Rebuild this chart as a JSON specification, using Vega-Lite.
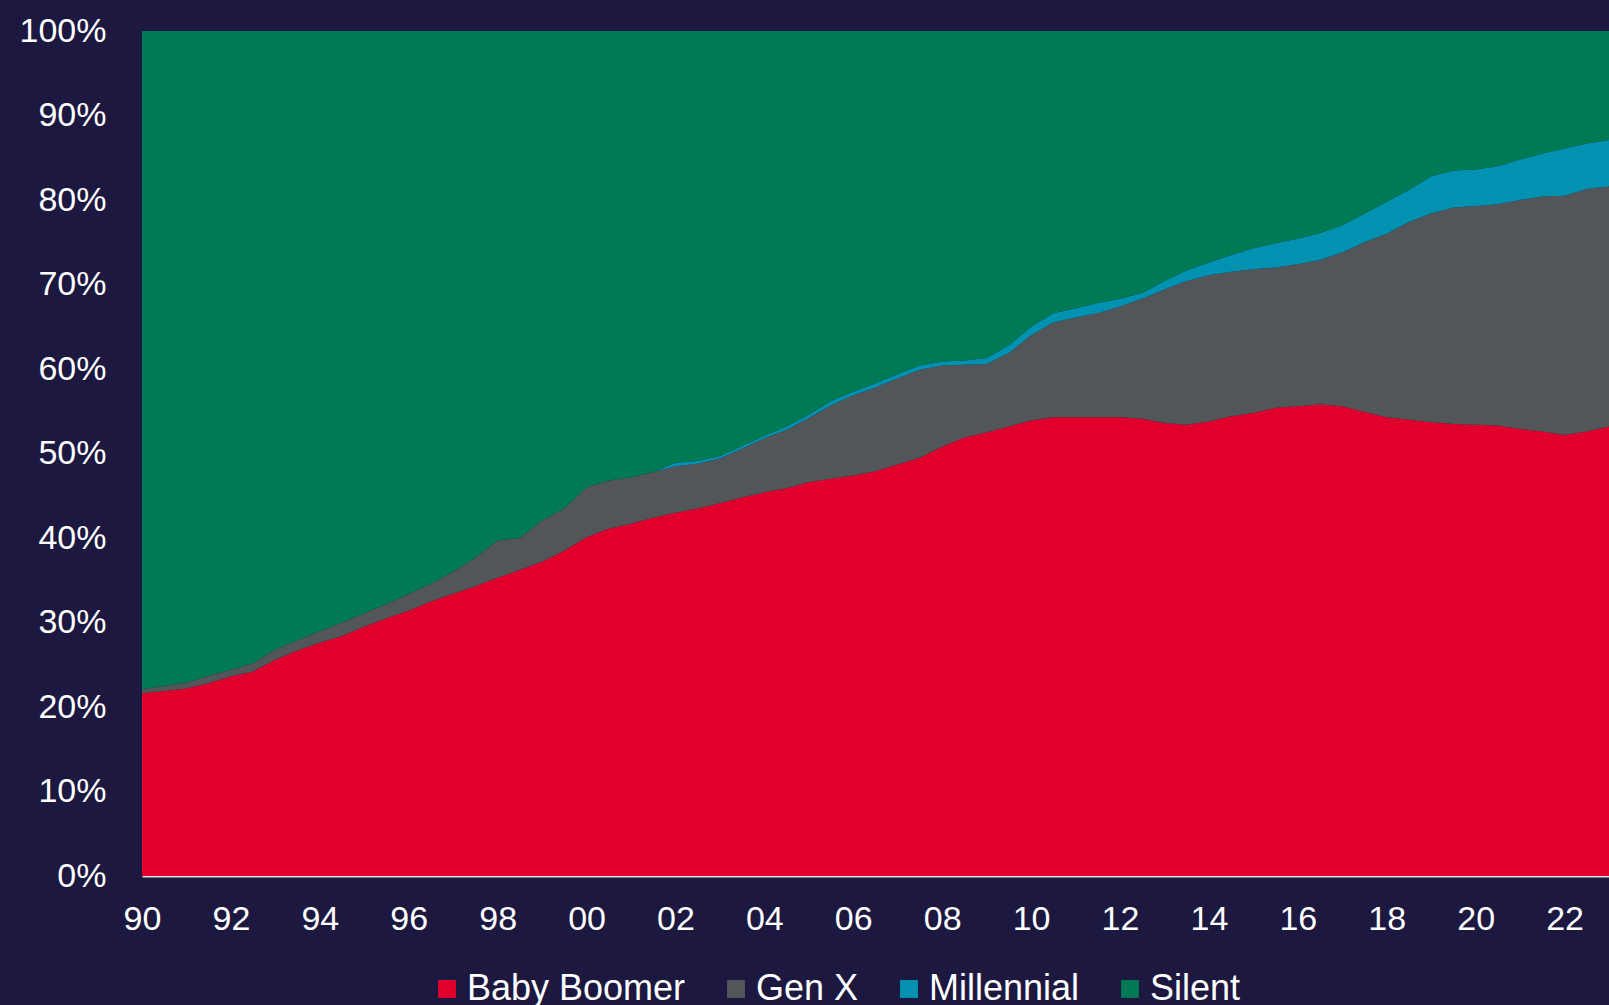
{
  "$schema": "https://vega.github.io/schema/vega-lite/v6.json",
  "width": 1467,
  "height": 845,
  "autosize": {"type": "none"},
  "padding": {"left": 142, "top": 31, "right": 0, "bottom": 129},
  "background": "#1c1840",
  "config": {"view": {"stroke": null}, "font": "Liberation Sans"},
  "data": {
    "values": [
      {"year": 1990.0, "Baby Boomer": 21.6, "Gen X": 0.5, "Millennial": 0, "Silent": 77.9},
      {"year": 1990.5, "Baby Boomer": 21.9, "Gen X": 0.6, "Millennial": 0, "Silent": 77.5},
      {"year": 1991.0, "Baby Boomer": 22.2, "Gen X": 0.7, "Millennial": 0, "Silent": 77.1},
      {"year": 1991.5, "Baby Boomer": 22.8, "Gen X": 0.9, "Millennial": 0, "Silent": 76.3},
      {"year": 1992.0, "Baby Boomer": 23.6, "Gen X": 0.8, "Millennial": 0, "Silent": 75.6},
      {"year": 1992.5, "Baby Boomer": 24.2, "Gen X": 1.0, "Millennial": 0, "Silent": 74.8},
      {"year": 1993.0, "Baby Boomer": 25.6, "Gen X": 1.2, "Millennial": 0, "Silent": 73.2},
      {"year": 1993.5, "Baby Boomer": 26.7, "Gen X": 1.2, "Millennial": 0, "Silent": 72.1},
      {"year": 1994.0, "Baby Boomer": 27.6, "Gen X": 1.4, "Millennial": 0, "Silent": 71.0},
      {"year": 1994.5, "Baby Boomer": 28.4, "Gen X": 1.6, "Millennial": 0, "Silent": 70.0},
      {"year": 1995.0, "Baby Boomer": 29.5, "Gen X": 1.6, "Millennial": 0, "Silent": 68.9},
      {"year": 1995.5, "Baby Boomer": 30.5, "Gen X": 1.7, "Millennial": 0, "Silent": 67.8},
      {"year": 1996.0, "Baby Boomer": 31.4, "Gen X": 2.0, "Millennial": 0, "Silent": 66.6},
      {"year": 1996.5, "Baby Boomer": 32.5, "Gen X": 2.1, "Millennial": 0, "Silent": 65.4},
      {"year": 1997.0, "Baby Boomer": 33.4, "Gen X": 2.6, "Millennial": 0, "Silent": 64.0},
      {"year": 1997.5, "Baby Boomer": 34.3, "Gen X": 3.4, "Millennial": 0, "Silent": 62.3},
      {"year": 1998.0, "Baby Boomer": 35.3, "Gen X": 4.4, "Millennial": 0, "Silent": 60.3},
      {"year": 1998.5, "Baby Boomer": 36.2, "Gen X": 3.8, "Millennial": 0, "Silent": 60.0},
      {"year": 1999.0, "Baby Boomer": 37.2, "Gen X": 4.9, "Millennial": 0, "Silent": 57.9},
      {"year": 1999.5, "Baby Boomer": 38.5, "Gen X": 5.0, "Millennial": 0, "Silent": 56.5},
      {"year": 2000.0, "Baby Boomer": 40.1, "Gen X": 5.9, "Millennial": 0, "Silent": 54.0},
      {"year": 2000.5, "Baby Boomer": 41.1, "Gen X": 5.7, "Millennial": 0, "Silent": 53.2},
      {"year": 2001.0, "Baby Boomer": 41.7, "Gen X": 5.5, "Millennial": 0, "Silent": 52.8},
      {"year": 2001.5, "Baby Boomer": 42.4, "Gen X": 5.4, "Millennial": 0, "Silent": 52.2},
      {"year": 2002.0, "Baby Boomer": 43.0, "Gen X": 5.5, "Millennial": 0.4, "Silent": 51.1},
      {"year": 2002.5, "Baby Boomer": 43.5, "Gen X": 5.3, "Millennial": 0.3, "Silent": 50.9},
      {"year": 2003.0, "Baby Boomer": 44.1, "Gen X": 5.3, "Millennial": 0.3, "Silent": 50.3},
      {"year": 2003.5, "Baby Boomer": 44.8, "Gen X": 5.8, "Millennial": 0.3, "Silent": 49.1},
      {"year": 2004.0, "Baby Boomer": 45.4, "Gen X": 6.4, "Millennial": 0.3, "Silent": 47.9},
      {"year": 2004.5, "Baby Boomer": 45.9, "Gen X": 6.9, "Millennial": 0.4, "Silent": 46.8},
      {"year": 2005.0, "Baby Boomer": 46.6, "Gen X": 7.6, "Millennial": 0.4, "Silent": 45.4},
      {"year": 2005.5, "Baby Boomer": 47.0, "Gen X": 8.7, "Millennial": 0.5, "Silent": 43.8},
      {"year": 2006.0, "Baby Boomer": 47.4, "Gen X": 9.5, "Millennial": 0.4, "Silent": 42.7},
      {"year": 2006.5, "Baby Boomer": 47.9, "Gen X": 9.9, "Millennial": 0.5, "Silent": 41.7},
      {"year": 2007.0, "Baby Boomer": 48.7, "Gen X": 10.2, "Millennial": 0.5, "Silent": 40.6},
      {"year": 2007.5, "Baby Boomer": 49.5, "Gen X": 10.4, "Millennial": 0.5, "Silent": 39.6},
      {"year": 2008.0, "Baby Boomer": 50.8, "Gen X": 9.6, "Millennial": 0.5, "Silent": 39.1},
      {"year": 2008.5, "Baby Boomer": 51.9, "Gen X": 8.6, "Millennial": 0.5, "Silent": 39.0},
      {"year": 2009.0, "Baby Boomer": 52.5, "Gen X": 8.1, "Millennial": 0.7, "Silent": 38.7},
      {"year": 2009.5, "Baby Boomer": 53.2, "Gen X": 8.7, "Millennial": 0.9, "Silent": 37.2},
      {"year": 2010.0, "Baby Boomer": 53.9, "Gen X": 10.1, "Millennial": 1.0, "Silent": 35.0},
      {"year": 2010.5, "Baby Boomer": 54.3, "Gen X": 11.2, "Millennial": 1.1, "Silent": 33.4},
      {"year": 2011.0, "Baby Boomer": 54.3, "Gen X": 11.8, "Millennial": 1.1, "Silent": 32.8},
      {"year": 2011.5, "Baby Boomer": 54.3, "Gen X": 12.3, "Millennial": 1.2, "Silent": 32.2},
      {"year": 2012.0, "Baby Boomer": 54.3, "Gen X": 13.1, "Millennial": 0.9, "Silent": 31.7},
      {"year": 2012.5, "Baby Boomer": 54.1, "Gen X": 14.2, "Millennial": 0.7, "Silent": 31.0},
      {"year": 2013.0, "Baby Boomer": 53.6, "Gen X": 15.8, "Millennial": 1.0, "Silent": 29.6},
      {"year": 2013.5, "Baby Boomer": 53.4, "Gen X": 17.0, "Millennial": 1.3, "Silent": 28.3},
      {"year": 2014.0, "Baby Boomer": 53.8, "Gen X": 17.3, "Millennial": 1.5, "Silent": 27.4},
      {"year": 2014.5, "Baby Boomer": 54.4, "Gen X": 17.1, "Millennial": 2.0, "Silent": 26.5},
      {"year": 2015.0, "Baby Boomer": 54.8, "Gen X": 17.0, "Millennial": 2.5, "Silent": 25.7},
      {"year": 2015.5, "Baby Boomer": 55.4, "Gen X": 16.6, "Millennial": 2.9, "Silent": 25.1},
      {"year": 2016.0, "Baby Boomer": 55.6, "Gen X": 16.8, "Millennial": 3.0, "Silent": 24.6},
      {"year": 2016.5, "Baby Boomer": 55.8, "Gen X": 17.1, "Millennial": 3.2, "Silent": 23.9},
      {"year": 2017.0, "Baby Boomer": 55.6, "Gen X": 18.2, "Millennial": 3.2, "Silent": 23.0},
      {"year": 2017.5, "Baby Boomer": 54.9, "Gen X": 20.1, "Millennial": 3.4, "Silent": 21.6},
      {"year": 2018.0, "Baby Boomer": 54.3, "Gen X": 21.7, "Millennial": 3.8, "Silent": 20.2},
      {"year": 2018.5, "Baby Boomer": 54.0, "Gen X": 23.4, "Millennial": 3.8, "Silent": 18.8},
      {"year": 2019.0, "Baby Boomer": 53.7, "Gen X": 24.7, "Millennial": 4.4, "Silent": 17.2},
      {"year": 2019.5, "Baby Boomer": 53.5, "Gen X": 25.6, "Millennial": 4.4, "Silent": 16.5},
      {"year": 2020.0, "Baby Boomer": 53.4, "Gen X": 25.9, "Millennial": 4.3, "Silent": 16.4},
      {"year": 2020.5, "Baby Boomer": 53.3, "Gen X": 26.2, "Millennial": 4.5, "Silent": 16.0},
      {"year": 2021.0, "Baby Boomer": 52.9, "Gen X": 27.1, "Millennial": 4.8, "Silent": 15.2},
      {"year": 2021.5, "Baby Boomer": 52.6, "Gen X": 27.8, "Millennial": 5.1, "Silent": 14.5},
      {"year": 2022.0, "Baby Boomer": 52.2, "Gen X": 28.3, "Millennial": 5.6, "Silent": 13.9},
      {"year": 2022.5, "Baby Boomer": 52.6, "Gen X": 28.7, "Millennial": 5.4, "Silent": 13.3},
      {"year": 2023.0, "Baby Boomer": 53.2, "Gen X": 28.4, "Millennial": 5.5, "Silent": 12.9}
    ]
  },
  "transform": [
    {"fold": ["Baby Boomer", "Gen X", "Millennial", "Silent"], "as": ["gen", "share"]}
  ],
  "mark": {"type": "area", "interpolate": "linear"},
  "encoding": {
    "x": {
      "field": "year",
      "type": "quantitative",
      "scale": {"domain": [1990, 2023], "nice": false, "zero": false},
      "axis": {
        "title": null,
        "values": [1990, 1992, 1994, 1996, 1998, 2000, 2002, 2004, 2006, 2008, 2010, 2012, 2014, 2016, 2018, 2020, 2022],
        "labelExpr": "substring(toString(datum.value), 2)",
        "labelFontSize": 34,
        "labelColor": "#ffffff",
        "labelPadding": 26,
        "ticks": false,
        "tickSize": 0,
        "grid": false,
        "domain": true,
        "domainColor": "#dcdcdc",
        "domainWidth": 2,
        "labelFlush": false,
        "labelOverlap": false
      }
    },
    "y": {
      "field": "share",
      "type": "quantitative",
      "stack": "normalize",
      "scale": {"domain": [0, 1], "nice": false},
      "axis": {
        "title": null,
        "values": [0, 0.1, 0.2, 0.3, 0.4, 0.5, 0.6, 0.7, 0.8, 0.9, 1],
        "format": ".0%",
        "labelFontSize": 34,
        "labelColor": "#ffffff",
        "labelPadding": 36,
        "ticks": false,
        "tickSize": 0,
        "grid": false,
        "domain": false,
        "labelFlush": false,
        "labelOverlap": false
      }
    },
    "color": {
      "field": "gen",
      "type": "nominal",
      "scale": {
        "domain": ["Baby Boomer", "Gen X", "Millennial", "Silent"],
        "range": ["#e1002b", "#535658", "#0092b0", "#007a55"]
      },
      "legend": {
        "orient": "none",
        "legendX": 287,
        "legendY": 940,
        "direction": "horizontal",
        "title": null,
        "symbolType": "square",
        "symbolSize": 320,
        "symbolStrokeWidth": 0,
        "labelFontSize": 36,
        "labelLimit": 0,
        "labelColor": "#ffffff",
        "labelOffset": 2,
        "columnPadding": 32,
        "padding": 0
      }
    },
    "order": {"field": "gen", "sort": "ascending"}
  }
}
